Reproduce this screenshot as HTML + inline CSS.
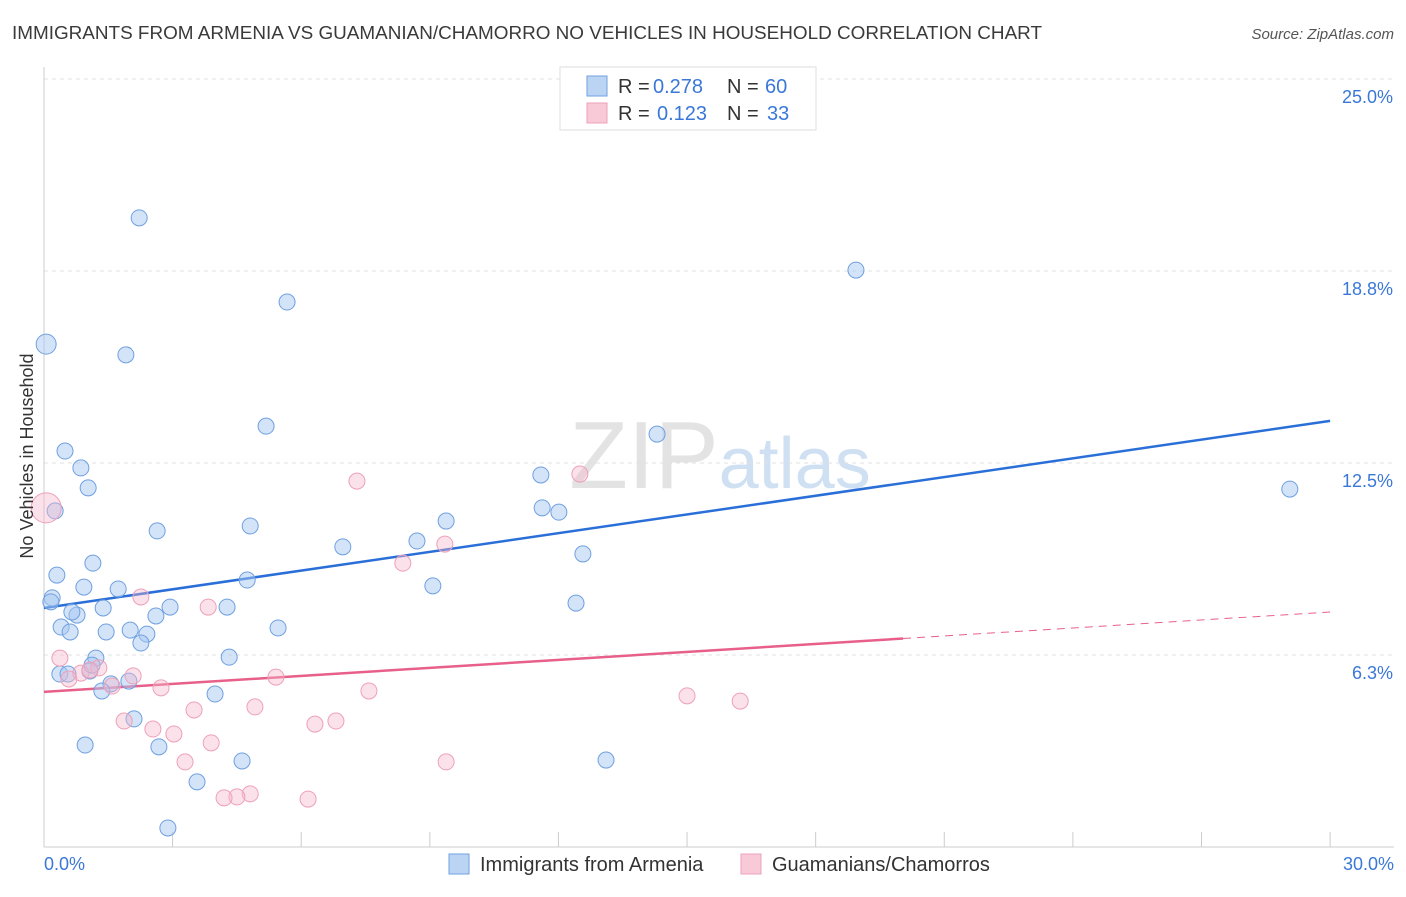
<!DOCTYPE html>
<html><head><meta charset="utf-8"><style>
body{margin:0;background:#fff;font-family:"Liberation Sans",sans-serif;}
svg text{font-family:"Liberation Sans",sans-serif;}
</style></head><body>
<svg id="chart" width="1406" height="892" xmlns="http://www.w3.org/2000/svg">
<text x="12" y="39" font-size="18.9" fill="#3a3a3a">IMMIGRANTS FROM ARMENIA VS GUAMANIAN/CHAMORRO NO VEHICLES IN HOUSEHOLD CORRELATION CHART</text>
<text x="1394" y="39" font-size="15" fill="#555" text-anchor="end" font-style="italic">Source: ZipAtlas.com</text>
<text x="720" y="488" font-size="96" text-anchor="middle" fill="#e3e3e3" font-family="Liberation Serif">ZIP<tspan fill="#cfe0f3" font-family="Liberation Sans" font-size="72">atlas</tspan></text>
<g id="grid"></g>
<g id="axes"></g>
<g id="lines"></g>
<g id="points"></g>
<text transform="translate(33,456) rotate(-90)" font-size="18" fill="#333" text-anchor="middle">No Vehicles in Household</text>
<g>
<rect x="560" y="67" width="256" height="63" fill="#fff" stroke="#ddd"/>
<rect x="587" y="76" width="20" height="20" fill="#bcd4f4" stroke="#6fa0e0"/>
<text x="618" y="93" font-size="20" fill="#333">R =</text>
<text x="653" y="93" font-size="20" fill="#3a78d8">0.278</text>
<text x="727" y="93" font-size="20" fill="#333">N =</text>
<text x="765" y="93" font-size="20" fill="#3a78d8">60</text>
<rect x="587" y="103" width="20" height="20" fill="#f8cad8" stroke="#eea0b8"/>
<text x="618" y="120" font-size="20" fill="#333">R =</text>
<text x="657" y="120" font-size="20" fill="#3a78d8">0.123</text>
<text x="727" y="120" font-size="20" fill="#333">N =</text>
<text x="767" y="120" font-size="20" fill="#3a78d8">33</text>
</g>
<g>
<rect x="449" y="854" width="20" height="20" fill="#bcd4f4" stroke="#6fa0e0"/>
<text x="480" y="871" font-size="20" fill="#333">Immigrants from Armenia</text>
<rect x="741" y="854" width="20" height="20" fill="#f8cad8" stroke="#eea0b8"/>
<text x="772" y="871" font-size="20" fill="#333">Guamanians/Chamorros</text>
</g>
</svg>
<script>
const blueX=[0.05,2.22,5.67,1.91,18.94,5.18,14.30,0.49,0.86,1.03,29.06,11.59,11.62,12.01,0.26,2.64,4.81,9.38,6.97,8.70,12.57,1.14,0.30,0.93,1.73,4.74,9.07,0.19,0.16,1.38,0.77,0.65,2.94,4.27,2.61,12.41,0.40,0.61,1.45,2.01,2.40,2.26,5.46,1.21,4.32,0.37,0.56,1.07,1.56,1.98,1.35,3.99,2.10,0.96,2.68,4.62,13.11,3.57,2.89,1.12];
const blueY=[16.37,20.48,17.74,16.02,18.78,13.70,13.44,12.89,12.34,11.69,11.65,12.11,11.04,10.90,10.94,10.29,10.45,10.61,9.77,9.96,9.54,9.24,8.85,8.46,8.40,8.69,8.50,8.11,7.98,7.78,7.55,7.65,7.81,7.81,7.52,7.94,7.16,7.00,7.00,7.06,6.93,6.64,7.13,6.15,6.18,5.63,5.63,5.73,5.31,5.40,5.08,4.98,4.17,3.32,3.26,2.80,2.83,2.12,0.62,5.92];
const pinkX=[0.05,12.50,7.30,9.35,8.37,2.26,3.83,0.37,1.28,0.86,0.58,2.08,1.59,5.41,2.73,7.58,15.00,16.24,4.92,3.50,1.87,2.54,3.03,6.32,6.81,3.90,3.29,9.38,4.81,4.50,4.20,6.16,1.07];
const pinkY=[11.04,12.14,11.91,9.86,9.24,8.14,7.81,6.15,5.83,5.66,5.47,5.57,5.24,5.53,5.18,5.08,4.92,4.75,4.56,4.46,4.10,3.84,3.68,4.00,4.10,3.39,2.77,2.77,1.73,1.63,1.60,1.56,5.76];
const yTicks=[25,18.75,12.5,6.25];
const yTickLabels=["25.0%","18.8%","12.5%","6.3%"];
const xTicks=[0,3,6,9,12,15,18,21,24,27,30];
const blueTrend=[7.78,13.87];
const pinkTrend=[5.05,7.65];
const pinkSolidEnd=20.04;
const NS="http://www.w3.org/2000/svg";
const X=v=>44+v*42.87, Y=v=>847-v*30.72;
function mk(tag,attrs,parent){const e=document.createElementNS(NS,tag);for(const k in attrs)e.setAttribute(k,attrs[k]);parent.appendChild(e);return e;}
const grid=document.getElementById('grid'),axes=document.getElementById('axes'),lines=document.getElementById('lines'),pts=document.getElementById('points');
yTicks.forEach((t,i)=>{
 const l=mk('line',{x1:44,x2:1394,y1:Y(t),y2:Y(t),stroke:'#e2e2e2','stroke-dasharray':'4,4'},grid);
 
 
 const tx=mk('text',{x:1393,y:Y(t)+24,'font-size':18,fill:'#3a78d8','text-anchor':'end'},grid);
 tx.textContent=yTickLabels[i];
 
 
});
const ya=mk('line',{x1:44,x2:44,y1:67,y2:847,stroke:'#ccc'},axes);


const xa=mk('line',{x1:44,x2:1394,y1:847,y2:847,stroke:'#ccc'},axes);


xTicks.forEach(t=>{
 const l=mk('line',{x1:X(t),x2:X(t),y1:832,y2:847,stroke:'#ccc'},axes);
 
 
});
const xl0=mk('text',{x:44,y:870,'font-size':18,fill:'#3a78d8'},axes);xl0.textContent='0.0%';


const xl1=mk('text',{x:1394,y:870,'font-size':18,fill:'#3a78d8','text-anchor':'end'},axes);xl1.textContent='30.0%';


blueX.forEach((x,i)=>{
 const c=mk('circle',{cx:X(x),cy:Y(blueY[i]),r:i===0?10:8,fill:'rgba(168,200,242,0.5)',stroke:'#6fa0e0','stroke-width':1},pts);
 
 
});
pinkX.forEach((x,i)=>{
 const c=mk('circle',{cx:X(x),cy:Y(pinkY[i]),r:i===0?15:8,fill:'rgba(246,182,202,0.4)',stroke:'#eea0b8','stroke-width':1},pts);
 
 
});
const bt=mk('line',{x1:X(0),y1:Y(blueTrend[0]),x2:X(30),y2:Y(blueTrend[1]),stroke:'#2a6fd8','stroke-width':2.5},lines);


const pm=pinkTrend[0]+(pinkTrend[1]-pinkTrend[0])*pinkSolidEnd/30;
const pt=mk('line',{x1:X(0),y1:Y(pinkTrend[0]),x2:X(pinkSolidEnd),y2:Y(pm),stroke:'#e8608a','stroke-width':2.5},lines);


const pd=mk('line',{x1:X(pinkSolidEnd),y1:Y(pm),x2:X(30),y2:Y(pinkTrend[1]),stroke:'#e8608a','stroke-width':1,'stroke-dasharray':'8,6'},lines);


</script>
</body></html>
